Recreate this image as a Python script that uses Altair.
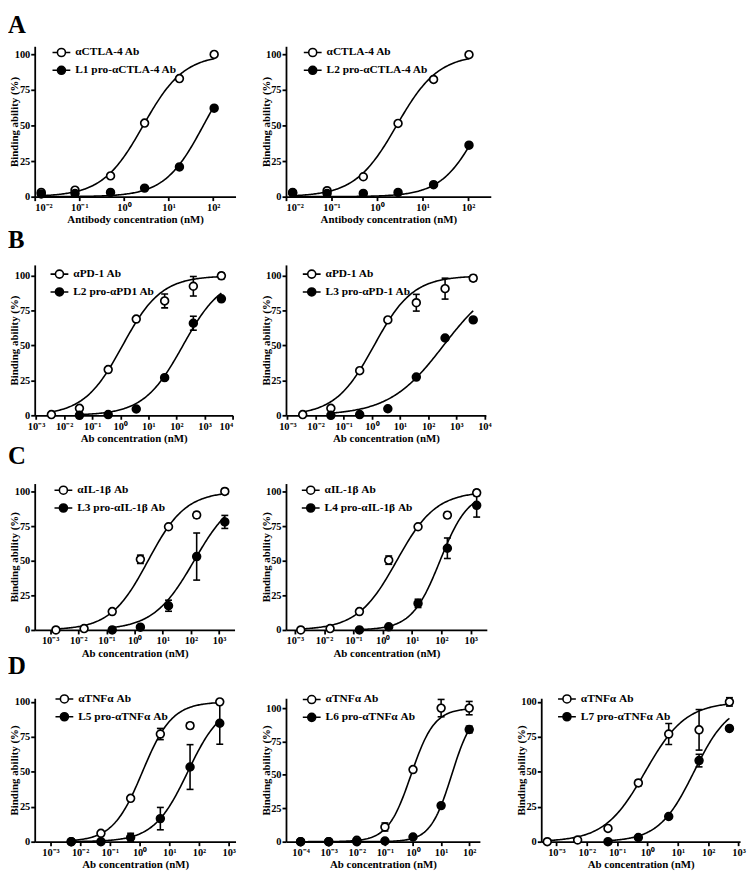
import math
import altair as alt
import pandas as pd

FONT = "Liberation Serif"

# ---------------- data ----------------
A_conc = [0.014, 0.08, 0.5, 2.9, 17.5, 105]
A1_open = [3.0, 4.6, 14.6, 51.7, 83.0, 100.0]
A1_open_err = [0, 0, 0, 0, 0, 0]
A1_fill = [1.9, 2.3, 3.0, 6.0, 20.9, 62.2]
A1_fill_err = [0, 0, 0, 0, 0, 0]
A2_open = [3.0, 4.2, 14.0, 51.5, 82.4, 99.8]
A2_open_err = [0, 0, 0, 0, 0, 0]
A2_fill = [2.5, 2.3, 2.3, 3.0, 8.4, 36.2]
A2_fill_err = [0, 0, 0, 0, 0, 0]

B_conc = [0.0035, 0.035, 0.37, 3.7, 38, 400, 4000]
B1_open = [0.5, 5.0, 32.8, 69.0, 82.0, 92.5, 100.0]
B1_open_err = [0, 0, 0, 0, 5, 7, 2]
B1_fill = [None, 0.0, 0.5, 4.5, 27.0, 66.0, 83.5]
B1_fill_err = [0, 0, 0, 0, 0, 5, 0]
B2_open = [0.5, 5.0, 32.0, 68.4, 80.7, 90.8, 98.3]
B2_open_err = [0, 0, 0, 0, 6, 7.5, 2]
B2_fill = [None, 0.0, 0.5, 4.7, 27.4, 55.4, 68.4]
B2_fill_err = [0, 0, 0, 0, 0, 0, 0]

C_conc = [0.0016, 0.016, 0.16, 1.6, 16, 160, 1600]
C1_open = [0.0, 1.0, 13.3, 51.0, 74.5, 83.0, 100.0]
C1_open_err = [0, 0, 0, 3, 0, 2, 2]
C1_fill = [None, None, 0.0, 2.0, 17.5, 53.0, 78.0]
C1_fill_err = [0, 0, 0, 0, 4, 17, 4.7]
C2_open = [0.0, 1.0, 13.3, 50.4, 74.5, 82.9, 99.0]
C2_open_err = [0, 0, 0, 3, 0, 2, 2]
C2_fill = [None, None, 0.0, 2.3, 19.2, 59.0, 90.0]
C2_fill_err = [0, 0, 0, 0, 3, 7.4, 8.5]

D1_conc = [0.005, 0.05, 0.5, 5, 50, 500]
D1_open = [0.0, 6.0, 31.0, 77.0, 83.0, 100.0]
D1_open_err = [0, 0, 0, 4, 2, 0]
D1_fill = [0.0, 0.0, 3.0, 16.5, 53.4, 84.7]
D1_fill_err = [0, 0, 3, 8, 16, 15]

D2_conc = [0.0001, 0.001, 0.01, 0.1, 1, 10, 100]
D2_open = [0.0, 0.0, 1.0, 11.0, 54.0, 100.0, 100.0]
D2_open_err = [0, 0, 0, 3, 0, 6.5, 5]
D2_fill = [0.0, 0.0, 0.0, 0.5, 3.5, 27.0, 84.0]
D2_fill_err = [0, 0, 0, 0, 0, 0, 2.5]

D3_conc = [0.0005, 0.005, 0.05, 0.5, 5, 50, 500]
D3_open = [0.0, 1.2, 9.5, 42.0, 77.0, 80.0, 100.0]
D3_open_err = [0, 0, 1, 2, 7.5, 14.5, 3]
D3_fill = [None, None, 0.0, 3.0, 18.0, 58.0, 81.0]
D3_fill_err = [0, 0, 0, 0, 0, 4.5, 0]

# fitted curve parameters: [EC50, Hill slope, top]
A1_open_fit = [2.7, 0.95, 100]
A1_fill_fit = [60, 1.0, 100]
A2_open_fit = [2.7, 0.95, 100]
A2_fill_fit = [190, 1.02, 100]
B1_open_fit = [1.2, 0.63, 100]
B1_fill_fit = [170, 0.62, 100]
B2_open_fit = [1.2, 0.63, 100]
B2_fill_fit = [350, 0.45, 100]
C1_open_fit = [3.0, 0.65, 100]
C1_fill_fit = [130, 0.6, 100]
C2_open_fit = [3.0, 0.65, 100]
C2_fill_fit = [90, 0.9, 100]
D1_open_fit = [1.25, 0.87, 100]
D1_fill_fit = [42, 0.76, 100]
D2_open_fit = [0.85, 1.05, 100]
D2_fill_fit = [23.7, 1.15, 100]
D3_open_fit = [0.84, 0.65, 100]
D3_fill_fit = [34, 0.75, 100]

A1_names = ["\u03b1CTLA-4 Ab", "L1 pro-\u03b1CTLA-4 Ab"]
A2_names = ["\u03b1CTLA-4 Ab", "L2 pro-\u03b1CTLA-4 Ab"]
B1_names = ["\u03b1PD-1 Ab", "L2 pro-\u03b1PD1 Ab"]
B2_names = ["\u03b1PD-1 Ab", "L3 pro-\u03b1PD-1 Ab"]
C1_names = ["\u03b1IL-1\u03b2 Ab", "L3 pro-\u03b1IL-1\u03b2 Ab"]
C2_names = ["\u03b1IL-1\u03b2 Ab", "L4 pro-\u03b1IL-1\u03b2 Ab"]
D1_names = ["\u03b1TNF\u03b1 Ab", "L5 pro-\u03b1TNF\u03b1 Ab"]
D2_names = ["\u03b1TNF\u03b1 Ab", "L6 pro-\u03b1TNF\u03b1 Ab"]
D3_names = ["\u03b1TNF\u03b1 Ab", "L7 pro-\u03b1TNF\u03b1 Ab"]

panel_letters = ["A", "B", "C", "D"]
x_titles = ["Antibody concentration (nM)", "Ab concentration (nM)"]
y_title = "Binding ability (%)"
y_ticks = [0, 25, 50, 75, 100]

# ---------------- helpers ----------------
SUP = {"-": "\u207b", "0": "\u2070", "1": "\u00b9", "2": "\u00b2",
       "3": "\u00b3", "4": "\u2074"}
LEGEND_SYMBOL = ("M-1,0H-0.45M0.45,0H1M-0.45,0A0.45,0.45,0,1,1,0.45,0"
                 "A0.45,0.45,0,1,1,-0.45,0Z")


def xlabel_expr(kmin, kmax):
    expr = "''"
    for k in range(kmax, kmin - 1, -1):
        s = "10" + "".join(SUP[c] for c in str(k))
        expr = f"round(log(datum.value)/LN10) == {k} ? '{s}' : ({expr})"
    return expr


def panel(conc, o_y, o_e, f_y, f_e, o_fit, f_fit, names, xlog, ydom,
          w, h, xtitle, leg, letter=None, letter_y=-17):
    kmin = math.ceil(xlog[0] - 1e-9)
    kmax = math.floor(xlog[1] + 1e-9)
    ticks = [10.0 ** k for k in range(kmin, kmax + 1)]
    xs = alt.Scale(type="log", domain=[10 ** xlog[0], 10 ** xlog[1]], nice=False)
    ysc = alt.Scale(domain=ydom, nice=False, zero=False)
    xax = alt.Axis(values=ticks, labelExpr=xlabel_expr(kmin, kmax), title=xtitle)
    yax = alt.Axis(values=y_ticks, title=y_title)
    X = alt.X("conc:Q", scale=xs, axis=xax)
    Y = alt.Y("val:Q", scale=ysc, axis=yax)

    n = len(conc)
    df = pd.DataFrame({
        "conc": list(conc) * 2,
        "val": [float("nan") if v is None else v for v in list(o_y) + list(f_y)],
        "err": list(o_e) + list(f_e),
        "series": [names[0]] * n + [names[1]] * n,
        "k": [0] * n + [1] * n,
    }).dropna(subset=["val"])
    df["lo"] = df["val"] - df["err"]
    df["hi"] = df["val"] + df["err"]
    de = df[df["err"] > 0]

    layers = []
    for yy, fit in ((o_y, o_fit), (f_y, f_fit)):
        xv = [c for c, v in zip(conc, yy) if v is not None]
        a, b = math.log10(min(xv)), math.log10(max(xv))
        step = (b - a) / 150
        layers.append(
            alt.Chart(alt.sequence(a, b + step / 2, step, as_="t"))
            .transform_calculate(conc="pow(10, datum.t)")
            .transform_calculate(val=f"{fit[2]} / (1 + pow({fit[0]} / datum.conc, {fit[1]}))")
            .mark_line(color="black", strokeWidth=1.6)
            .encode(x=X, y=Y)
        )
    if len(de):
        base = alt.Chart(de)
        layers.append(base.mark_rule(color="black", strokeWidth=1.6)
                      .encode(x=X, y=alt.Y("lo:Q", scale=ysc, axis=yax), y2="hi:Q"))
        for fld in ("lo", "hi"):
            layers.append(base.mark_tick(color="black", thickness=1.6, size=7,
                                         orient="horizontal", opacity=1)
                          .encode(x=X, y=alt.Y(f"{fld}:Q", scale=ysc, axis=yax)))
    layers.append(
        alt.Chart(df).mark_point(shape="circle", filled=True, size=62,
                                 stroke="black", strokeWidth=1.7, opacity=1)
        .encode(
            x=X, y=Y,
            fill=alt.Fill("series:N",
                          scale=alt.Scale(domain=names, range=["white", "black"]),
                          legend=alt.Legend(
                              title=None, orient="none", legendX=leg[0], legendY=leg[1],
                              symbolType=LEGEND_SYMBOL, symbolSize=324,
                              symbolStrokeColor="black", symbolStrokeWidth=1.6,
                              symbolOpacity=1, labelFont=FONT, labelFontSize=11.5,
                              labelFontWeight="bold", labelColor="black",
                              rowPadding=0, labelOffset=4, padding=0)),
            order=alt.Order("k:Q"),
        )
    )
    if letter is not None:
        layers.append(
            alt.Chart(pd.DataFrame({"letter": [letter]}))
            .mark_text(x=-27, y=letter_y, align="left", baseline="alphabetic",
                       font=FONT, fontSize=25, fontWeight="bold", color="black")
            .encode(text="letter:N")
        )
    return alt.layer(*layers).properties(width=w, height=h)


def blank():
    return (alt.Chart(pd.DataFrame({"v": [0]}))
            .mark_point(opacity=0)
            .encode(x=alt.value(0), y=alt.value(0))
            .properties(width=1, height=1))


A1 = panel(A_conc, A1_open, A1_open_err, A1_fill, A1_fill_err, A1_open_fit, A1_fill_fit,
           A1_names, [-2.0, 2.5], [0, 105.7], 203, 152, x_titles[0], (17, -3.7),
           panel_letters[0], -13.5)
A2 = panel(A_conc, A2_open, A2_open_err, A2_fill, A2_fill_err, A2_open_fit, A2_fill_fit,
           A2_names, [-2.0, 2.5], [0, 105.7], 207, 152, x_titles[0], (17, -3.7))
B1 = panel(B_conc, B1_open, B1_open_err, B1_fill, B1_fill_err, B1_open_fit, B1_fill_fit,
           B1_names, [-3.05, 4.0], [0, 107.8], 200, 152, x_titles[1], (15, -0.7),
           panel_letters[1], -17)
B2 = panel(B_conc, B2_open, B2_open_err, B2_fill, B2_fill_err, B2_open_fit, B2_fill_fit,
           B2_names, [-3.05, 4.05], [0, 107.8], 202, 152, x_titles[1], (16, -0.7))
C1 = panel(C_conc, C1_open, C1_open_err, C1_fill, C1_fill_err, C1_open_fit, C1_fill_fit,
           C1_names, [-3.55, 3.55], [0, 105.7], 202, 148, x_titles[1], (19, -3.3),
           panel_letters[2], -20)
C2 = panel(C_conc, C2_open, C2_open_err, C2_fill, C2_fill_err, C2_open_fit, C2_fill_fit,
           C2_names, [-3.3, 3.55], [0, 105.7], 203, 148, x_titles[1], (15, -3.3))
D1 = panel(D1_conc, D1_open, D1_open_err, D1_fill, D1_fill_err, D1_open_fit, D1_fill_fit,
           D1_names, [-3.53, 3.23], [0, 102.6], 203, 145, x_titles[1], (20, -9.3),
           panel_letters[3], -25)
D2 = panel(D2_conc, D2_open, D2_open_err, D2_fill, D2_fill_err, D2_open_fit, D2_fill_fit,
           D2_names, [-4.52, 2.38], [0, 107.4], 196, 145, x_titles[1], (16, -8.7))
D3 = panel(D3_conc, D3_open, D3_open_err, D3_fill, D3_fill_err, D3_open_fit, D3_fill_fit,
           D3_names, [-3.5, 3.05], [0, 102.6], 201, 145, x_titles[1], (16, -9.3))

chart = (
    alt.concat(A1, A2, blank(), B1, B2, blank(), C1, C2, blank(), D1, D2, D3,
               columns=3, spacing={"row": 69, "column": 51}, bounds="flush")
    .resolve_scale(fill="independent")
    .resolve_legend(fill="independent")
    .properties(padding={"left": 0, "top": 0, "right": 2, "bottom": 2},
                background="white")
    .configure_view(stroke=None)
    .configure_axis(domainColor="black", domainWidth=1.8, tickColor="black",
                    tickWidth=1.8, tickSize=4, grid=False,
                    labelFont=FONT, labelFontWeight="bold", labelColor="black",
                    titleFont=FONT, titleFontWeight="bold", titleColor="black",
                    titleFontSize=11)
    .configure_axisX(labelFontSize=10.5, labelPadding=2, titlePadding=1)
    .configure_axisY(labelFontSize=10.5, labelPadding=1, minExtent=12, maxExtent=12,
                     titlePadding=3)
)

chart.save("out.html", embed_options={"renderer": "svg", "actions": False})
